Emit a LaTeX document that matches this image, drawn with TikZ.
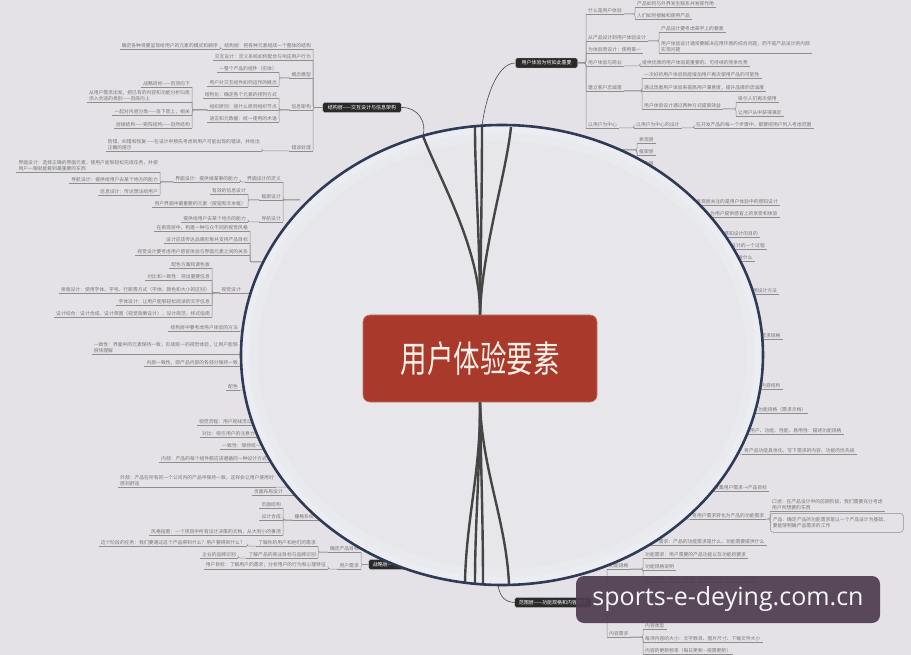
\documentclass[tikz,border=0pt]{standalone}
\usepackage{graphicx}
\usepackage{fontspec}
\setmainfont{Noto Sans CJK SC}
\newfontfamily\stampfont{Open Sans}

\definecolor{paper}{HTML}{E4E2E6}
\definecolor{lensfill}{HTML}{E7E7EB}
\definecolor{lensglow}{HTML}{EDF1F6}
\definecolor{lensrim}{HTML}{2F3A56}
\definecolor{trunk}{HTML}{454545}
\definecolor{leaftext}{HTML}{767676}
\definecolor{leafline}{HTML}{8E8E8E}
\definecolor{corered}{HTML}{A8392B}
\definecolor{coretext}{HTML}{FCEFE8}
\definecolor{topicblack}{HTML}{2A2A2A}
\definecolor{stampbg}{HTML}{4E3D50}

\tikzset{
  uline/.style={draw=leafline, line width=0.5pt},
  conn/.style={draw=leafline, line width=0.5pt, rounded corners=2pt},
  leaf/.style={font=\fontsize{4.8}{5.8}\selectfont, text=leaftext, align=left,
    inner xsep=2pt, inner ysep=1.2pt, anchor=south west,
    append after command={(\tikzlastnode.south west) edge[uline] (\tikzlastnode.south east)}},
  leafl/.style={leaf, anchor=south east},
  notebox/.style={draw=leafline, line width=0.5pt, rounded corners=3pt, anchor=north west,
    font=\fontsize{4.8}{5.8}\selectfont, text=leaftext, align=left, inner sep=2.5pt,
    minimum height=19pt, text width=128pt},
  topic/.style={fill=topicblack, draw=gray!60, line width=0.3pt, rounded corners=1.5pt,
    text=white, font=\fontsize{5}{6}\selectfont, inner xsep=4pt, inner ysep=2.6pt},
  core/.style={fill=corered, draw=corered!70!white, line width=0.6pt, rounded corners=7pt,
    minimum width=234pt, minimum height=87pt, text=coretext,
    font=\fontsize{26.5}{30}\selectfont},
  trunkline/.style={draw=trunk, line width=2.4pt},
  twig/.style={draw=gray!55!black, line width=0.6pt},
  stamp/.style={fill=stampbg, fill opacity=0.93, text opacity=1, text=white!95!stampbg,
    rounded corners=8pt, minimum width=304pt, minimum height=47pt,
    font=\stampfont\fontsize{25}{28}\selectfont}
}

\begin{document}
\begin{tikzpicture}[x=1pt,y=-1pt]
\useasboundingbox (0,0) rectangle (911,655);
\fill[paper] (0,0) rectangle (911,655);

% why it matters
\node[topic, inner xsep=6pt] (why) at (546.5,63) {用户体验为何如此重要};
\node[leaf] (tr1) at (586,14) {什么是用户体验};
\node[leaf] (tr1a) at (635,7) {产品如何与外界发生联系并发挥作用};
\node[leaf] (tr1b) at (635,19) {人们如何接触和使用产品};
\node[leaf] (tr2) at (586,41) {从产品设计到用户体验设计};
\node[leaf] (tr2a) at (659,32) {产品设计要考虑美学上的要素};
\node[leaf] (tr2b) at (659,53) {用户体验设计通常要解决应用环境的综合问题，而不是产品设计的内部\\实现问题};
\node[leaf] (tr3) at (586,53) {为体验而设计：使用第一};
\node[leaf] (tr4) at (586,66) {用户体验与商业};
\node[leaf] (tr4a) at (640,66) {提供优质的用户体验是重要的、可持续的竞争优势};
\node[leaf] (tr5) at (586,91) {建立客户忠诚度};
\node[leaf] (tr5a) at (642,78) {一次好的用户体验就能增加用户再次使用产品的可能性};
\node[leaf] (tr5b) at (642,91) {通过改善用户体验来提高用户满意度，提升品牌的忠诚度};
\node[leaf] (tr5c) at (642,109) {用户体验设计通过两种方式提高效益};
\node[leaf] (tr5c1) at (736,102) {吸引人们再次使用};
\node[leaf] (tr5c2) at (736,116) {让用户从中获得满足};
\node[leaf] (tr6) at (586,128) {以用户为中心};
\node[leaf] (tr6a) at (634,128) {以用户为中心的设计};
\node[leaf] (tr6b) at (694,128) {在开发产品的每一个步骤中，都要把用户列入考虑范围};
\foreach \c in {tr1,tr2,tr3,tr4,tr5,tr6}
  \draw[conn] (why.east) -- (why.east -| \c.south west) -- (\c.south west);
\foreach \p/\c in {tr1/tr1a,tr1/tr1b,tr2/tr2a,tr2/tr2b,tr4/tr4a,tr5/tr5a,tr5/tr5b,tr5/tr5c,
    tr5c/tr5c1,tr5c/tr5c2,tr6/tr6a,tr6a/tr6b}
  \draw[conn] (\p.south east) -- (\p.south east -| \c.south west) -- (\c.south west);

% structure plane
\node[topic, inner xsep=5pt] (jgc) at (362,107.5) {结构层——交互设计与信息架构};
\node[leafl] (tl1) at (313,49) {结构层：把各种元素组成一个整体的结构};
\node[leafl] (tl1a) at (220,49) {确定各种将要呈现给用户的元素的模式和顺序};
\node[leafl] (tl2) at (313,60) {交互设计：定义系统如何配合与响应用户行为};
\node[leafl] (tl3) at (313,78) {概念模型};
\node[leafl] (tl3a) at (279,72) {一整个产品的组件（实体）};
\node[leafl] (tl3b) at (279,86) {用户对交互组件如何运作的概念};
\node[leafl] (tl4) at (313,110) {信息架构};
\node[leafl] (tl4a) at (279,98) {结构化：确定各个元素的排列方式};
\node[leafl] (tl4b) at (279,110) {组织原则：按什么原则组织节点};
\node[leafl] (tl4c) at (279,122) {语言和元数据：统一使用的术语};
\node[leafl] (tl4b1) at (192,87) {战略目标——自顶向下};
\node[leafl] (tl4b2) at (192,102) {从用户需求出发，把已有的内容和功能分析归类\\添入合适的类别——自底向上};
\node[leafl] (tl4b3) at (192,115) {一起对内容分类——自下而上，相关};
\node[leafl] (tl4b4) at (192,128) {层级结构——矩阵结构——自然结构};
\node[leafl] (tl5) at (313,151) {错误处理};
\node[leafl] (tl5a) at (262,151) {防错、纠错和恢复——在设计中预先考虑到用户可能出现的错误，并给出\\正确的提示};
\foreach \c in {tl1,tl2,tl3,tl4,tl5}
  \draw[conn] (jgc.west) -- (jgc.west -| \c.south east) -- (\c.south east);
\foreach \p/\c in {tl1/tl1a,tl3/tl3a,tl3/tl3b,tl4/tl4a,tl4/tl4b,tl4/tl4c,
    tl4b/tl4b1,tl4b/tl4b2,tl4b/tl4b3,tl4b/tl4b4,tl5/tl5a}
  \draw[conn] (\p.south west) -- (\p.south west -| \c.south east) -- (\c.south east);

% skeleton plane (root under the lens)
\coordinate (kj) at (300,200);
\node[leafl] (k1) at (283,182) {界面设计的定义};
\node[leafl] (k1a) at (240,182) {界面设计：提供做某事的能力};
\node[leafl] (k1a1) at (160,172) {界面设计：选择正确的界面元素，使用户能够轻松完成任务，并使\\用户一眼就能看到最重要的东西};
\node[leafl] (k1a2) at (160,183) {导航设计：提供给用户去某个地方的能力};
\node[leafl] (k1a3) at (160,195) {信息设计：传达想法给用户};
\node[leafl] (k2) at (283,200) {框架设计};
\node[leafl] (k2a) at (248,194) {有效的信息设计};
\node[leafl] (k2b) at (248,207) {用户界面中最重要的元素（按钮和文本框）};
\node[leafl] (k3) at (283,222) {导航设计};
\node[leafl] (k3a) at (248,222) {提供给用户去某个地方的能力};
\foreach \c in {k1,k2,k3}
  \draw[conn] (kj) -- (kj -| \c.south east) -- (\c.south east);
\foreach \p/\c in {k1/k1a,k1a/k1a1,k1a/k1a2,k1a/k1a3,k2/k2a,k2/k2b,k3/k3a}
  \draw[conn] (\p.south west) -- (\p.south west -| \c.south east) -- (\c.south east);

% surface plane
\coordinate (vj) at (275,262);
\coordinate (visj) at (266,293);
\node[leafl] (v1) at (250,231) {在表现层中，构建一种与众不同的视觉风格};
\node[leafl] (v2) at (250,243) {设计应该传达品牌形象并支持产品目标};
\node[leafl] (v3) at (250,255) {视觉设计要考虑用户感官体验与界面元素之间的关系};
\node[leafl] (vis) at (243,293) {视觉设计};
\node[leafl] (v4a) at (212,268) {配色方案和调色板};
\node[leafl] (v4b) at (212,280) {对比和一致性：突出重要信息};
\node[leafl] (v4c) at (212,293) {排版设计：使用字体、字号、行距等方式（字体、颜色和大小的区别）};
\node[leafl] (v4d) at (212,305) {字体设计：让用户能够轻松阅读的文字信息};
\node[leafl] (v4e) at (212,317) {设计综合：设计合成、设计草图（视觉效果设计），设计规范，样式指南};
\foreach \c in {v1,v2,v3}
  \draw[conn] (vj) -- (vj -| \c.south east) -- (\c.south east);
\draw[conn] (visj) -- (vis.south east);
\foreach \c in {v4a,v4b,v4c,v4d,v4e}
  \draw[conn] (vis.south west) -- (vis.south west -| \c.south east) -- (\c.south east);

\coordinate (wj) at (262,350);
\node[leafl] (w1) at (240,331) {结构层中要考虑用户体验的方法};
\node[leafl] (w2) at (240,354) {一致性：界面中的元素保持一致，形成统一的视觉体验，让用户能够\\很快理解};
\node[leafl] (w3) at (240,366) {内部一致性，即产品内部的各部分保持一致};
\node[leafl] (w4) at (240,390) {配色};
\foreach \c in {w1,w2,w3,w4}
  \draw[conn] (wj) |- (\c.south east);

\coordinate (xj) at (300,455);
\node[leafl] (x1) at (254,425) {视觉流程：用户视线流动};
\node[leafl] (x2) at (257,437) {对比：吸引用户的注意力};
\node[leafl] (x3) at (263,449) {一致性：保持统一};
\node[leafl] (x4) at (269,462) {内部：产品的每个组件都应该遵循同一种设计方式};
\node[leafl] (x5) at (276,487) {外部：产品在所有的一个公司内的产品中保持一致，这样会让用户使用时\\感到舒适};
\foreach \c in {x1,x2,x3,x4,x5}
  \draw[conn] (xj) |- (\c.south east);

\coordinate (yj) at (312,495);
\coordinate (grj) at (332,520);
\node[leafl] (y1) at (285,495) {页面布局设计};
\node[leafl] (gr) at (316,520) {栅格系统};
\node[leafl] (g1) at (283,508) {页面结构};
\node[leafl] (g2) at (283,520) {设计合成};
\node[leafl] (g3) at (283,535) {风格指南：一个项目中所有设计决策的文档，从大到小的事项};
\draw[conn] (yj) -- (y1.south east);
\draw[conn] (grj) -- (gr.south east);
\foreach \c in {g1,g2,g3}
  \draw[conn] (gr.south west) -- (gr.south west -| \c.south east) -- (\c.south east);

% strategy plane
\node[topic] (zl) at (407,564.5) {战略层——产品目标和用户需求};
\node[leafl] (s1) at (361,552) {确定产品目标};
\node[leafl] (s1a) at (318,546) {了解你的用户和他们的需求};
\node[leafl] (s1a1) at (247,546) {这个阶段的任务：我们要通过这个产品得到什么？用户要得到什么？};
\node[leafl] (s1b) at (318,558) {了解产品的商业目标与品牌识别};
\node[leafl] (s1b1) at (238,558) {企业的品牌识别};
\node[leafl] (s2) at (361,569) {用户需求};
\node[leafl] (s2a) at (328,569) {用户目标：了解用户的需求；分析用户的行为和心理特征};
\foreach \c in {s1,s2}
  \draw[conn] (zl.west) -- (zl.west -| \c.south east) -- (\c.south east);
\foreach \p/\c in {s1/s1a,s1/s1b,s1a/s1a1,s1b/s1b1,s2/s2a}
  \draw[conn] (\p.south west) -- (\p.south west -| \c.south east) -- (\c.south east);

% right rim
\coordinate (pj) at (612,150);
\node[leaf] (p1) at (637,143) {表现层};
\node[leaf] (p2) at (637,155) {框架层};
\node[leaf] (p3) at (637,167) {结构层};
\foreach \c in {p1,p2,p3}
  \draw[conn] (pj) -- (pj -| \c.south west) -- (\c.south west);

\coordinate (rj1) at (672,235);
\node[leaf] (ra1) at (694,205) {表现层关注的是用户体验中的感知设计};
\node[leaf] (ra2) at (708,217) {为用户提供感官上的享受和体验};
\node[leaf] (ra3) at (722,237) {感知设计的目的};
\node[leaf] (ra4) at (729,249) {设计的一个过程};
\node[leaf] (ra5) at (736,261) {做什么};
\foreach \c in {ra1,ra2,ra3,ra4,ra5}
  \draw[conn] (rj1) |- (\c.south west);

\coordinate (rj2) at (722,380);
\node[leaf] (rb1) at (746,294) {常用设计方法};
\node[leaf] (rb2) at (759,339) {需求规格};
\node[leaf] (rb3) at (759,389) {内容结构};
\node[leaf] (rb4) at (756,413) {功能规格（需求文档）};
\node[leaf] (rb5) at (748,434) {用户、功能、性能、易用性：描述功能规格};
\node[leaf] (rb6) at (742,454) {将产品功能具体化，写下需求的内容、功能的优先级};
\foreach \c in {rb1,rb2,rb3,rb4,rb5,rb6}
  \draw[conn] (rj2) |- (\c.south west);

\coordinate (rj3) at (676,505);
\node[leaf] (rc1) at (712,491) {收集用户需求→产品目标};
\node[leaf] (rc2) at (690,519) {将用户需求转化为产品的功能需求};
\node[leaf] (rc2a) at (770,511) {口述：在产品设计中的前期阶段，我们需要充分考虑\\用户所想要的东西};
\node[notebox] (rc2b) at (770,513) {产品：确定产品的功能需求是以一个产品设计为基础，\\要能够明确产品需求的工作};
\foreach \c in {rc1,rc2}
  \draw[conn] (rj3) |- (\c.south west);
\draw[conn] (rc2.south east) -- (rc2.south east -| rc2a.south west) -- (rc2a.south west);
\draw[conn] (rc2.south east) -- (rc2.south east -| rc2b.west) -- (rc2b.west);

\coordinate (rj4) at (612,545);
\node[leaf] (rd1) at (647,545) {用户需求：产品的功能需求是什么，功能需要提供什么};
\draw[conn] (rj4) -- (rd1.south west);

% scope plane
\node[topic] (fw) at (553,602.5) {范围层——功能规格和内容需求};
\node[leaf] (f1) at (607,569) {功能规格};
\node[leaf] (f1b) at (643,558) {功能需求：用户需要的产品功能以及功能的要求};
\node[leaf] (f1c) at (643,570) {功能规格说明};
\node[leaf] (f1d) at (643,582) {功能规格：确认、表达、描述需求的一致性和完整性};
\node[leaf] (f2) at (607,637) {内容需求};
\node[leaf] (f2a) at (643,629) {内容类型};
\node[leaf] (f2b) at (643,642) {每项内容的大小：文字数目、图片尺寸、下载文件大小};
\node[leaf] (f2c) at (643,654) {内容的更新频率（每日更新—按需更新）};
\foreach \c in {f1,f2}
  \draw[conn] (fw.east) -- (fw.east -| \c.south west) -- (\c.south west);
\foreach \p/\c in {f1/f1b,f1/f1c,f1/f1d,f2/f2a,f2/f2b,f2/f2c}
  \draw[conn] (\p.south east) -- (\p.south east -| \c.south west) -- (\c.south west);

% the lens
\fill[lensfill] (502,355) ellipse [x radius=261pt, y radius=230pt];
\draw[lensglow, line width=16pt, opacity=0.35] (502,355) ellipse [x radius=253pt, y radius=222pt];
\draw[lensglow, line width=7pt, opacity=0.5] (502,355) ellipse [x radius=257pt, y radius=226pt];

\coordinate (rimA) at (423,136);
\coordinate (rimB) at (475,127);
\coordinate (rimC) at (482,126);
\coordinate (rimD) at (511,127);
\coordinate (rimE) at (465,583);
\coordinate (rimF) at (475,584);
\coordinate (rimG) at (483,585);
\coordinate (rimH) at (509,584);
\coordinate (rimI) at (498,585);

\node[core] (core) at (480,358.5) {\scalebox{1}[1.38]{用户体验要素}};
\draw[trunkline] (core.north) .. controls (481,250) and (440,180) .. (rimA);
\draw[trunkline] (core.north) .. controls (480,240) and (475,180) .. (rimB);
\draw[trunkline] (core.north) .. controls (481,240) and (482,180) .. (rimC);
\draw[trunkline] (core.north) .. controls (482,250) and (506,175) .. (rimD);
\draw[trunkline] (core.south) .. controls (481,470) and (466,520) .. (rimE);
\draw[trunkline] (core.south) .. controls (480,470) and (475,520) .. (rimF);
\draw[trunkline] (core.south) .. controls (481,470) and (483,520) .. (rimG);
\draw[trunkline] (core.south) .. controls (482,470) and (506,520) .. (rimH);

\draw[twig] (jgc.east) .. controls (418,107) and (427,122) .. (rimA);
\draw[twig] (why.west) .. controls (498,63) and (486,95) .. (rimC);
\draw[twig] (rimI) .. controls (500,598) and (506,602) .. (fw.west);

\draw[lensrim, line width=2.6pt] (502,355) ellipse [x radius=261pt, y radius=230pt];

\node[stamp] (wm) at (728,599.5) {sports-e-deying.com.cn};
\end{tikzpicture}
\end{document}
